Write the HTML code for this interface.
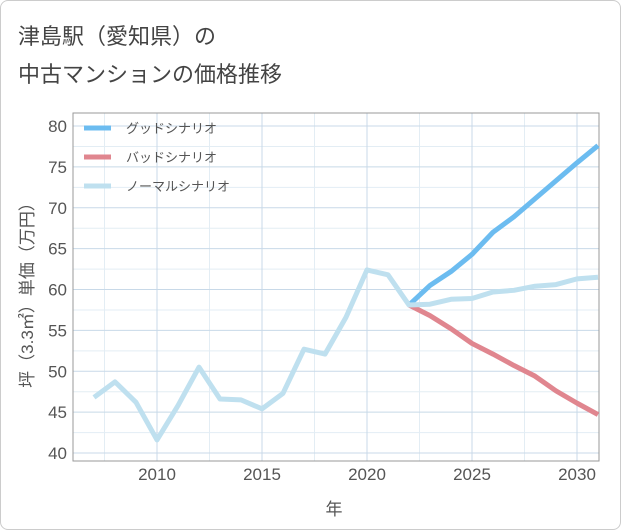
<!DOCTYPE html>
<html><head><meta charset="utf-8"><style>
body{margin:0;background:#fff;}
#wrap{position:relative;width:621px;height:530px;border:1px solid #ccc;box-sizing:border-box;border-radius:8px;overflow:hidden;font-family:"Liberation Sans","Noto Sans CJK JP",sans-serif;}
.title{position:absolute;left:17px;font-size:22px;color:#444;}
</style></head><body>
<div id="wrap">
<div class="title" style="top:18px">津島駅（愛知県）の</div>
<div class="title" style="top:56px">中古マンションの価格推移</div>
<svg id="chart" width="621" height="530" style="position:absolute;left:0;top:0"></svg>
</div>
<script>
const years=[2007,2008,2009,2010,2011,2012,2013,2014,2015,2016,2017,2018,2019,2020,2021,2022,2023,2024,2025,2026,2027,2028,2029,2030,2031];
const normalValues=[46.8,48.7,46.2,41.6,45.8,50.5,46.6,46.5,45.4,47.3,52.7,52.1,56.6,62.4,61.8,58.1,58.2,58.8,58.9,59.7,59.9,60.4,60.6,61.3,61.5];
const scenarioYears=[2022,2023,2024,2025,2026,2027,2028,2029,2030,2031];
const goodValues=[58.1,60.5,62.2,64.3,67.0,68.9,71.1,73.3,75.5,77.6];
const badValues=[58.1,56.8,55.2,53.4,52.1,50.7,49.4,47.6,46.1,44.7];
const yTicks=[40,45,50,55,60,65,70,75,80];
const xTicks=[2010,2015,2020,2025,2030];
const legendLabels=["グッドシナリオ","バッドシナリオ","ノーマルシナリオ"];
const legendColors=["#6cbcf0","#e0868f","#bfe0ef"];

const L=72,R=598,T=112,B=460;
const xs=y=>156+(y-2010)*21;
const ys=v=>452-(v-40)*(327/40);
const svg=document.getElementById('chart');
const NS='http://www.w3.org/2000/svg';
function mk(tag,attrs){const e=document.createElementNS(NS,tag);for(const k in attrs)e.setAttribute(k,attrs[k]);svg.appendChild(e);return e;}

// minor grid
for(let v=42.5;v<82;v+=5){const l=mk('line',{x1:L,x2:R,y1:ys(v),y2:ys(v),stroke:'#e3edf4','stroke-width':1});

}
for(let yr=2007.5;yr<2031;yr+=5){const l=mk('line',{x1:xs(yr),x2:xs(yr),y1:T,y2:B,stroke:'#e3edf4','stroke-width':1});

}
yTicks.forEach(v=>{
 const l=mk('line',{x1:L,x2:R,y1:ys(v),y2:ys(v),stroke:'#c8d9e8','stroke-width':1});
 
 
 const t=mk('text',{x:66,y:ys(v)+6,'text-anchor':'end','font-size':17,fill:'#555'});
 t.textContent=v;
 
 
});
xTicks.forEach(v=>{
 const l=mk('line',{x1:xs(v),x2:xs(v),y1:T,y2:B,stroke:'#c8d9e8','stroke-width':1});
 
 
 const t=mk('text',{x:xs(v),y:479,'text-anchor':'middle','font-size':17,fill:'#555'});
 t.textContent=v;
 
 
});
const frame=mk('rect',{x:L,y:T,width:R-L,height:B-T,fill:'none',stroke:'#999','stroke-width':1});



function line(xv,yv,color,name){
 const p=mk('polyline',{points:xv.map((x,i)=>xs(x)+','+ys(yv[i])).join(' '),fill:'none',stroke:color,'stroke-width':5,'stroke-linejoin':'round'});
 
 
}
line(scenarioYears,goodValues,legendColors[0],'good-scenario-line');
line(scenarioYears,badValues,legendColors[1],'bad-scenario-line');
line(years,normalValues,legendColors[2],'normal-scenario-line');

legendLabels.forEach((lb,i)=>{
 const y=127+i*29;
 const l=mk('line',{x1:83,x2:110,y1:y,y2:y,stroke:legendColors[i],'stroke-width':5});
 
 
 const t=mk('text',{x:125,y:y+5,'font-size':13,fill:'#555'});
 t.textContent=lb;
 
 
});
const xt=mk('text',{x:333,y:514,'text-anchor':'middle','font-size':17,fill:'#555'});
xt.textContent='年';


const yt=mk('text',{x:0,y:0,'text-anchor':'middle','font-size':17,fill:'#555',transform:'translate(32,290) rotate(-90)'});
yt.textContent='坪（3.3㎡）単価（万円）';


</script>
</body></html>
